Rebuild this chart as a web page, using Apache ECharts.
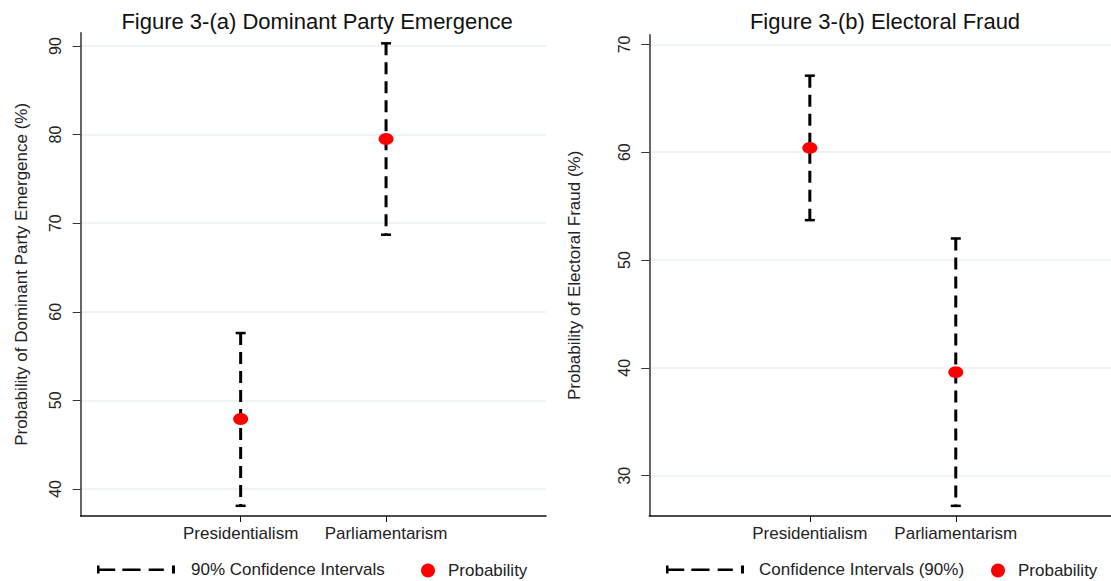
<!DOCTYPE html>
<html>
<head>
<meta charset="utf-8">
<script src="https://cdn.jsdelivr.net/npm/echarts@6/dist/echarts.min.js"></script>
<style>
  html, body { margin: 0; padding: 0; background: #fff; }
  #main { width: 1111px; height: 581px; }
</style>
</head>
<body>
<div id="main"></div>
<script>
// categories on the x axis (placed at positions 1 and 2)
const categories = ['Presidentialism', 'Parliamentarism']

// Figure 3-(a) Dominant Party Emergence
const domProb = [47.9, 79.5]
const domLower = [38.1, 68.7]
const domUpper = [57.6, 90.3]
const domTicks = [40, 50, 60, 70, 80, 90]

// Figure 3-(b) Electoral Fraud
const fraudProb = [60.4, 39.6]
const fraudLower = [53.7, 27.2]
const fraudUpper = [67.1, 52.0]
const fraudTicks = [30, 40, 50, 60, 70]

const catPos = categories.map((c, i) => i + 1)
const font = '"Liberation Sans", Arial, sans-serif'
const ciIcon = 'path://M0,1h2.5v8h-2.5z M0,4h18v2.5h-18z M25,4h18v2.5h-18z M51,4h15v2.5h-15z M74,1h3v8h-3z'

const myChart = echarts.init(document.getElementById('main'), null, { renderer: 'svg' })

function renderErrorBar(params, api) {
    const x = api.value(0)
    const lo = api.coord([x, api.value(1)])
    const hi = api.coord([x, api.value(2)])
    const cap = 5
    return {
        type: 'group',
        children: [
            {
                type: 'line',
                shape: { x1: hi[0], y1: hi[1], x2: lo[0], y2: lo[1] },
                style: { stroke: '#000', lineWidth: 3, lineDash: [12, 7] }
            },
            {
                type: 'line',
                shape: { x1: hi[0] - cap, y1: hi[1], x2: hi[0] + cap, y2: hi[1] },
                style: { stroke: '#000', lineWidth: 2.5 }
            },
            {
                type: 'line',
                shape: { x1: lo[0] - cap, y1: lo[1], x2: lo[0] + cap, y2: lo[1] },
                style: { stroke: '#000', lineWidth: 2.5 }
            }
        ]
    }
}

function xAxisFor(gridIndex) {
    return {
        type: 'value',
        gridIndex: gridIndex,
        min: -0.1,
        max: 3.1,
        axisLine: { show: true, onZero: false, lineStyle: { color: '#111', width: 1.5 } },
        axisTick: { show: true, length: 6, customValues: catPos, lineStyle: { color: '#111' } },
        axisLabel: {
            customValues: catPos,
            formatter: v => categories[Math.round(v) - 1],
            color: '#222',
            fontSize: 17,
            fontFamily: font,
            margin: 9
        },
        splitLine: { show: false }
    }
}

function yAxisFor(gridIndex, name, min, max, ticks, nameGap) {
    return {
        type: 'value',
        gridIndex: gridIndex,
        name: name,
        nameLocation: 'middle',
        nameGap: nameGap,
        nameMoveOverlap: false,
        nameTextStyle: { color: '#222', fontSize: 17, fontFamily: font },
        min: min,
        max: max,
        axisLine: { show: true, onZero: false, lineStyle: { color: '#333', width: 1.5 } },
        axisTick: { show: true, length: 8, customValues: ticks, lineStyle: { color: '#333' } },
        axisLabel: {
            customValues: ticks,
            rotate: 90,
            color: '#222',
            fontSize: 16,
            fontFamily: font,
            margin: 17
        },
        splitLine: { show: true, lineStyle: { color: '#e8f0f2', width: 1.5 } }
    }
}

function errorData(lower, upper) {
    return catPos.map((x, i) => [x, lower[i], upper[i]])
}

function pointData(prob) {
    return catPos.map((x, i) => [x, prob[i]])
}

const legendText = { fontSize: 17, color: '#222', fontFamily: font }

const option = {
    backgroundColor: '#fff',
    animation: false,
    title: [
        {
            text: 'Figure 3-(a) Dominant Party Emergence',
            left: 312,
            top: 5,
            textAlign: 'center',
            textStyle: { fontSize: 22, fontWeight: 'normal', color: '#111', fontFamily: font }
        },
        {
            text: 'Figure 3-(b) Electoral Fraud',
            left: 880,
            top: 5,
            textAlign: 'center',
            textStyle: { fontSize: 22, fontWeight: 'normal', color: '#111', fontFamily: font }
        }
    ],
    legend: [
        {
            data: [{ name: '90% Confidence Intervals', icon: ciIcon, textStyle: { padding: [0, 0, 0, 11] } }],
            left: 97, top: 561, padding: 0, itemWidth: 78, itemHeight: 10,
            textStyle: legendText
        },
        {
            data: [{ name: 'Probability', icon: 'circle', textStyle: { padding: [0, 0, 0, 8] } }],
            left: 421, top: 562, padding: 0, itemWidth: 14, itemHeight: 14,
            textStyle: legendText
        },
        {
            data: [{ name: 'Confidence Intervals (90%)', icon: ciIcon, textStyle: { padding: [0, 0, 0, 10] } }],
            left: 666, top: 561, padding: 0, itemWidth: 78, itemHeight: 10,
            textStyle: legendText
        },
        {
            data: [{ name: 'Probability', icon: 'circle', textStyle: { padding: [0, 0, 0, 8] } }],
            left: 991, top: 562, padding: 0, itemWidth: 14, itemHeight: 14,
            textStyle: legendText
        }
    ],
    grid: [
        { left: 80.7, top: 32.7, width: 465.3, height: 483.3, outerBoundsMode: 'none' },
        { left: 649.3, top: 34.7, width: 467, height: 481.3, outerBoundsMode: 'none' }
    ],
    xAxis: [xAxisFor(0), xAxisFor(1)],
    yAxis: [
        yAxisFor(0, 'Probability of Dominant Party Emergence (%)', 36.95, 91.5, domTicks, 51),
        yAxisFor(1, 'Probability of Electoral Fraud (%)', 26.26, 70.9, fraudTicks, 66)
    ],
    series: [
        {
            name: '90% Confidence Intervals',
            type: 'custom',
            xAxisIndex: 0,
            yAxisIndex: 0,
            itemStyle: { color: '#000' },
            renderItem: renderErrorBar,
            data: errorData(domLower, domUpper)
        },
        {
            name: 'Probability',
            type: 'scatter',
            xAxisIndex: 0,
            yAxisIndex: 0,
            symbol: 'circle',
            symbolSize: [15, 12],
            itemStyle: { color: '#ff0000', opacity: 1 },
            z: 5,
            data: pointData(domProb)
        },
        {
            name: 'Confidence Intervals (90%)',
            type: 'custom',
            xAxisIndex: 1,
            yAxisIndex: 1,
            itemStyle: { color: '#000' },
            renderItem: renderErrorBar,
            data: errorData(fraudLower, fraudUpper)
        },
        {
            name: 'Probability',
            type: 'scatter',
            xAxisIndex: 1,
            yAxisIndex: 1,
            symbol: 'circle',
            symbolSize: [15, 12],
            itemStyle: { color: '#ff0000', opacity: 1 },
            z: 5,
            data: pointData(fraudProb)
        }
    ]
}

myChart.setOption(option)
</script>
</body>
</html>
